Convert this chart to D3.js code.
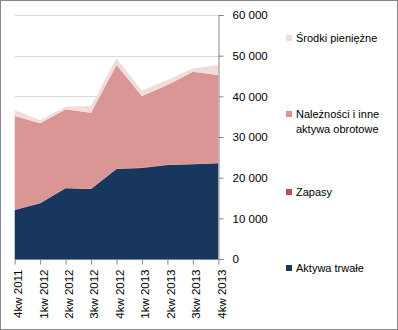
<!DOCTYPE html>
<html><head><meta charset="utf-8">
<script src="https://cdn.jsdelivr.net/npm/d3@7"></script>
<style>body{margin:0;background:#fff}svg{display:block;font-family:"Liberation Sans",Arial,sans-serif}</style>
</head><body><svg id="c" width="398" height="330"></svg>
<script>
const categories = ["4kw 2011","1kw 2012","2kw 2012","3kw 2012","4kw 2012","1kw 2013","2kw 2013","3kw 2013","4kw 2013"];
const aktywaTrwale = [12050,13700,17380,17210,22130,22400,23110,23280,23530];
const zapasy = [80,80,80,80,80,80,80,80,80];
const naleznosci = [23030,19590,19340,18690,25490,17600,19590,22700,21630];
const srodki = [1480,810,650,1640,1650,1300,1220,830,2460];
const seriesNames = ["Aktywa trwałe","Zapasy","Należności i inne aktywa obrotowe","Środki pieniężne"];
const seriesColors = ["#17375e","#c0504d","#d99694","#f2dcdb"];
const yTicks = [0,10000,20000,30000,40000,50000,60000];

const svg = d3.select("#c");
svg.append("rect").attr("x",0.5).attr("y",0.5).attr("width",397).attr("height",329)
  .attr("fill","#fff").attr("stroke","#868686");

const x = d3.scalePoint().domain(categories).range([14.7,218.3]);
const y = d3.scaleLinear().domain([0,60000]).range([259,15]);

const rows = categories.map((c,i)=>({c, s0:aktywaTrwale[i], s1:zapasy[i], s2:naleznosci[i], s3:srodki[i]}));
const stack = d3.stack().keys(["s0","s1","s2","s3"])(rows);

svg.append("g").selectAll("line").data(yTicks.filter(t=>t>0)).join("line")
  .attr("x1",14.7).attr("x2",218.3).attr("y1",d=>Math.round(y(d))+0.5).attr("y2",d=>Math.round(y(d))+0.5)
  .attr("stroke","#d9d9d9");

const area = d3.area().x(d=>x(d.data.c)).y0(d=>y(d[0])).y1(d=>y(d[1]));
svg.append("g").selectAll("path").data(stack).join("path")
  .attr("d",area).attr("fill",(d,i)=>seriesColors[i]);

const ya = d3.axisRight(y).tickValues(yTicks).tickSize(5).tickPadding(9)
  .tickFormat(d=>d3.format(",")(d).replace(/,/g," "));
const gy = svg.append("g").attr("transform","translate(218.5,0)").call(ya);
gy.select(".domain").attr("stroke","#868686");
gy.selectAll(".tick line").attr("stroke","#868686");
gy.selectAll(".tick text").attr("fill","#000").style("font-size","11.5px").style("font-family","'Liberation Sans',Arial,sans-serif");

const xa = d3.axisBottom(x).tickSize(5).tickPadding(4);
const gx = svg.append("g").attr("transform","translate(0,259.5)").call(xa);
gx.select(".domain").attr("stroke","#868686").attr("d","M14.7,0H218.3");
gx.selectAll(".tick line").attr("stroke","#868686");
gx.selectAll(".tick text").attr("fill","#000").style("font-size","11.5px")
  .style("font-family","'Liberation Sans',Arial,sans-serif")
  .attr("text-anchor","end").attr("transform","rotate(-90)")
  .attr("x",-10).attr("y",0).attr("dy","0.6em");

const legendY = [38,114,192,268];
const order = [3,2,1,0];
const lg = svg.append("g");
order.forEach((si,k)=>{
  const yy = legendY[k];
  lg.append("rect").attr("x",286).attr("y",yy-3).attr("width",6).attr("height",6).attr("fill",seriesColors[si]);
  const t = lg.append("text").attr("x",296).attr("y",yy).attr("dy","0.35em").style("font-size","11px").attr("fill","#000");
  if(si===2){
    t.append("tspan").attr("x",296).text("Należności i inne");
    t.append("tspan").attr("x",296).attr("dy","1.35em").text("aktywa obrotowe");
  } else t.text(seriesNames[si]);
});
</script></body></html>
